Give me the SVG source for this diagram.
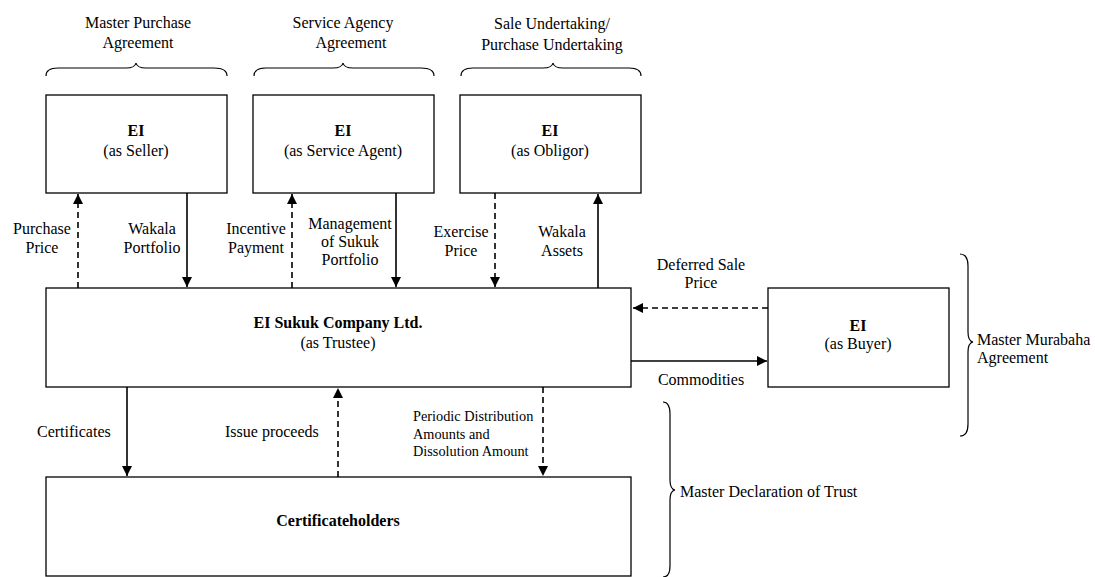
<svg xmlns="http://www.w3.org/2000/svg" width="1095" height="577" viewBox="0 0 1095 577" font-family="'Liberation Serif','Times New Roman',serif">
<style>
text{font-family:"Liberation Serif","Times New Roman",serif;font-size:16px;fill:#000}
.c{text-anchor:middle}
.b{font-weight:bold}
.s{font-size:14.3px}
.box{fill:#fff;stroke:#000;stroke-width:1.3}
.ln{stroke:#000;stroke-width:1.6;fill:none}
.d{stroke-dasharray:6,4}
.br{stroke:#000;stroke-width:1.2;fill:none}
</style>
<defs>
<marker id="ah" viewBox="0 0 10 10" refX="10" refY="5" markerWidth="10" markerHeight="10" markerUnits="userSpaceOnUse" orient="auto">
<path d="M0,0 L10,5 L0,10 Z" fill="#000"/>
</marker>
</defs>
<rect width="1095" height="577" fill="#fff"/>
<g id="labels-top">
<text class="c" x="138" y="28">Master Purchase</text>
<text class="c" x="138" y="48">Agreement</text>
<text class="c" x="343" y="28">Service Agency</text>
<text class="c" x="351" y="48">Agreement</text>
<text class="c" x="552" y="29">Sale Undertaking/</text>
<text class="c" x="552" y="50">Purchase Undertaking</text>
</g>
<g id="braces">
<path class="br" d="M46,76 Q46,68 58,68 L126,68 Q135,68 136,63 Q137,68 146,68 L214,68 Q227,68 227,76"/>
<path class="br" d="M254,76 Q254,68 266,68 L333,68 Q342,68 343,63 Q344,68 353,68 L421,68 Q434,68 434,76"/>
<path class="br" d="M461,76 Q461,68 473,68 L543,68 Q552,68 553,63 Q554,68 563,68 L629,68 Q641,68 641,76"/>
<path class="br" d="M960,254 Q968,254 968,266 L968,332 Q968,341 973,342 Q968,343 968,352 L968,424 Q968,436 960,436"/>
<path class="br" d="M663,402 Q670,402 670,414 L670,480 Q670,489 675,490 Q670,491 670,500 L670,566 Q670,577 663,577"/>
<text x="977" y="345">Master Murabaha</text>
<text x="977" y="363">Agreement</text>
<text x="680" y="497">Master Declaration of Trust</text>
</g>
<g id="node-seller">
<rect class="box" x="46" y="95" width="181" height="98"/>
<text class="c b" x="136" y="136">EI</text>
<text class="c" x="136" y="156">(as Seller)</text>
</g>
<g id="node-agent">
<rect class="box" x="253" y="95" width="181" height="98"/>
<text class="c b" x="343" y="136">EI</text>
<text class="c" x="343" y="156">(as Service Agent)</text>
</g>
<g id="node-obligor">
<rect class="box" x="460" y="95" width="181" height="98"/>
<text class="c b" x="550" y="136">EI</text>
<text class="c" x="550" y="156">(as Obligor)</text>
</g>
<g id="node-trustee">
<rect class="box" x="46" y="288" width="585" height="99"/>
<text class="c b" x="338" y="328">EI Sukuk Company Ltd.</text>
<text class="c" x="338" y="348">(as Trustee)</text>
</g>
<g id="node-buyer">
<rect class="box" x="768" y="288" width="181" height="99"/>
<text class="c b" x="858" y="331">EI</text>
<text class="c" x="858" y="349">(as Buyer)</text>
</g>
<g id="node-holders">
<rect class="box" x="46" y="477" width="585" height="99"/>
<text class="c b" x="338" y="526">Certificateholders</text>
</g>
<g id="connectors">
<line class="ln d" x1="78" y1="288" x2="78" y2="194" marker-end="url(#ah)"/>
<line class="ln" x1="187" y1="193" x2="187" y2="287" marker-end="url(#ah)"/>
<line class="ln d" x1="292" y1="288" x2="292" y2="194" marker-end="url(#ah)"/>
<line class="ln" x1="396" y1="193" x2="396" y2="287" marker-end="url(#ah)"/>
<line class="ln d" x1="495" y1="193" x2="495" y2="287" marker-end="url(#ah)"/>
<line class="ln" x1="598" y1="288" x2="598" y2="194" marker-end="url(#ah)"/>
<line class="ln d" x1="768" y1="308" x2="633" y2="308" marker-end="url(#ah)"/>
<line class="ln" x1="631" y1="361" x2="767" y2="361" marker-end="url(#ah)"/>
<line class="ln" x1="127" y1="387" x2="127" y2="476" marker-end="url(#ah)"/>
<line class="ln d" x1="338" y1="477" x2="338" y2="388" marker-end="url(#ah)"/>
<line class="ln d" x1="543" y1="387" x2="543" y2="476" marker-end="url(#ah)"/>
</g>
<g id="connector-labels">
<text class="c" x="42" y="234">Purchase</text>
<text class="c" x="42" y="253">Price</text>
<text class="c" x="152" y="234">Wakala</text>
<text class="c" x="152" y="253">Portfolio</text>
<text class="c" x="256" y="234">Incentive</text>
<text class="c" x="256" y="253">Payment</text>
<text class="c" x="350" y="229">Management</text>
<text class="c" x="350" y="247">of Sukuk</text>
<text class="c" x="350" y="265">Portfolio</text>
<text class="c" x="461" y="237">Exercise</text>
<text class="c" x="461" y="256">Price</text>
<text class="c" x="562" y="237">Wakala</text>
<text class="c" x="562" y="256">Assets</text>
<text class="c" x="701" y="270">Deferred Sale</text>
<text class="c" x="701" y="288">Price</text>
<text class="c" x="701" y="385">Commodities</text>
<text x="37" y="437">Certificates</text>
<text x="225" y="437">Issue proceeds</text>
<text class="s" x="413" y="421">Periodic Distribution</text>
<text class="s" x="413" y="439">Amounts and</text>
<text class="s" x="413" y="456">Dissolution Amount</text>
</g>
</svg>
